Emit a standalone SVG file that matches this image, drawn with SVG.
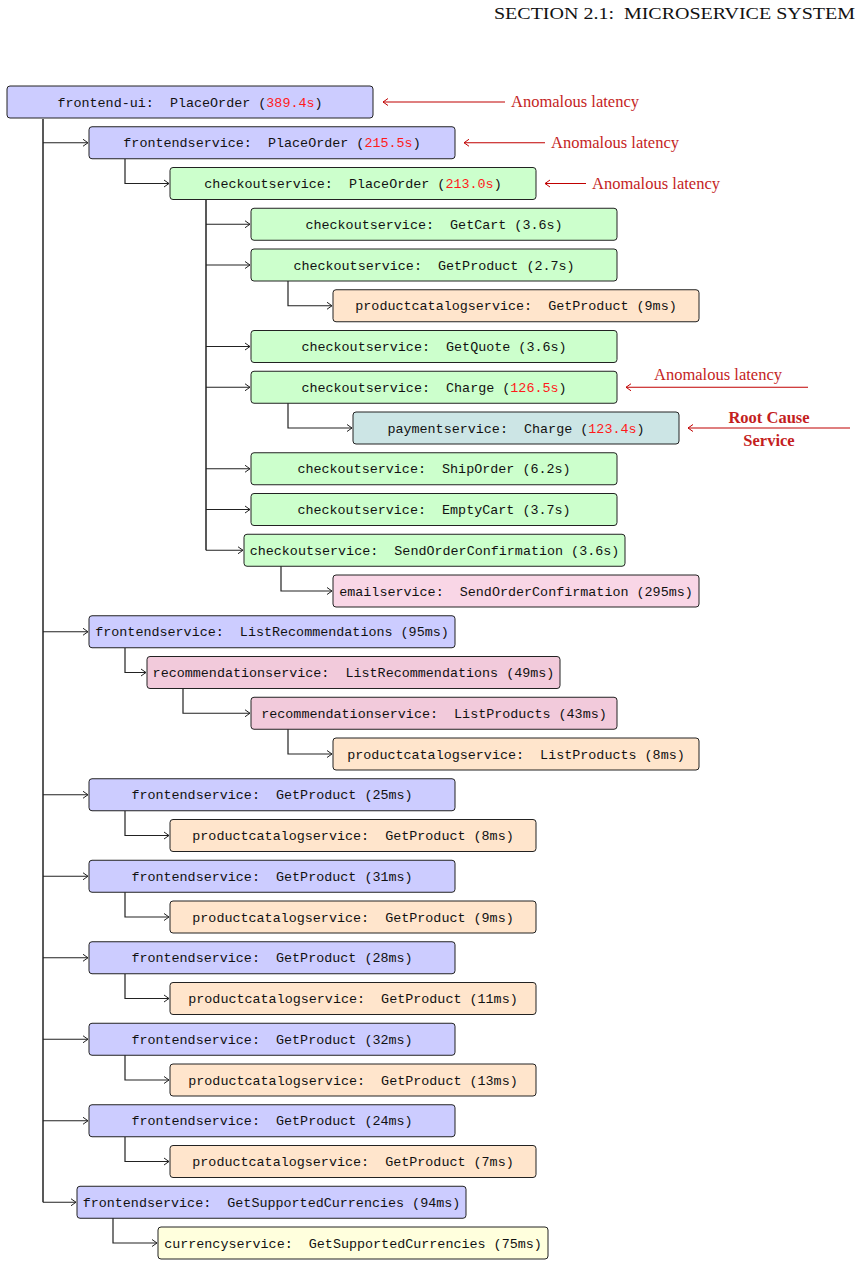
<svg xmlns="http://www.w3.org/2000/svg" width="861" height="1267" viewBox="0 0 861 1267">
<style>
.n rect{stroke:#222;stroke-width:1;rx:3;ry:3}
.n text{font-family:"Liberation Mono","DejaVu Sans Mono",monospace;font-size:13.4px;fill:#111;text-anchor:middle;white-space:pre}
.blue rect{fill:#ccccff}
.green rect{fill:#ccffcc}
.orange rect{fill:#ffe5cc}
.teal rect{fill:#cce5e5}
.pink rect{fill:#f9d6e6}
.rose rect{fill:#f2cadb}
.yellow rect{fill:#ffffdd}
.r{fill:#ff1a1a}
#connectors path{fill:none;stroke:#222;stroke-width:1.2;marker-end:url(#arr)}
#annotations path{fill:none;stroke:#c00000;stroke-width:1.2;marker-end:url(#arr2)}
.ann{font-family:"Liberation Serif","DejaVu Serif",serif;font-size:16.5px;fill:#c41e1e}
.annb{font-family:"Liberation Serif","DejaVu Serif",serif;font-size:16.5px;font-weight:bold;fill:#c41e1e;text-anchor:middle}
.hdr{font-family:"Liberation Serif","DejaVu Serif",serif;font-size:17px;fill:#111;white-space:pre}
</style>
<defs>
<marker id="arr" markerUnits="userSpaceOnUse" markerWidth="12" markerHeight="12" refX="0" refY="0" viewBox="-8 -6 10 12" orient="auto">
<path d="M-5,-3.5 Q-1.5,-1 0,0 Q-1.5,1 -5,3.5" fill="none" stroke="#222" stroke-width="1"/>
</marker>
<marker id="arr2" markerUnits="userSpaceOnUse" markerWidth="12" markerHeight="12" refX="0" refY="0" viewBox="-8 -6 10 12" orient="auto">
<path d="M-5,-3.5 Q-1.5,-1 0,0 Q-1.5,1 -5,3.5" fill="none" stroke="#c00000" stroke-width="1"/>
</marker>
</defs>
<text class="hdr" x="494" y="19" textLength="361" lengthAdjust="spacingAndGlyphs">SECTION 2.1:  MICROSERVICE SYSTEM</text>

<g id="connectors">
<path d="M43,119 V1202.25" style="marker-end:none;stroke-width:1.5"/>
<path d="M43,142.75 H88"/>
<path d="M43,631.75 H88"/>
<path d="M43,794.75 H88"/>
<path d="M43,876.25 H88"/>
<path d="M43,957.75 H88"/>
<path d="M43,1039.25 H88"/>
<path d="M43,1120.75 H88"/>
<path d="M43,1202.25 H76"/>
<path d="M125,159 V183.5 H169"/>
<path d="M206,200 V550.25" style="marker-end:none;stroke-width:1.5"/>
<path d="M206,224.25 H250"/>
<path d="M206,265 H250"/>
<path d="M206,346.5 H250"/>
<path d="M206,387.25 H250"/>
<path d="M206,468.75 H250"/>
<path d="M206,509.5 H250"/>
<path d="M206,550.25 H243"/>
<path d="M288,281 V305.75 H332"/>
<path d="M288,403 V428 H352"/>
<path d="M281,566 V591 H332"/>
<path d="M125,648 V672.5 H146"/>
<path d="M183,689 V713.25 H250"/>
<path d="M288,729 V754 H332"/>
<path d="M125,811 V835.5 H169"/>
<path d="M125,892 V917 H169"/>
<path d="M125,974 V998.5 H169"/>
<path d="M125,1055 V1080 H169"/>
<path d="M125,1137 V1161.5 H169"/>
<path d="M113,1218 V1243 H157"/>
</g>

<g id="annotations">
<path d="M505,102 H383"/>
<path d="M545,142.75 H464"/>
<path d="M586,183.5 H545"/>
<path d="M808,387.25 H626"/>
<path d="M850,428 H688"/>
</g>
<text class="ann" x="511" y="107" textLength="128">Anomalous latency</text>
<text class="ann" x="551" y="148" textLength="128">Anomalous latency</text>
<text class="ann" x="592" y="189" textLength="128">Anomalous latency</text>
<text class="ann" x="654" y="380" textLength="128">Anomalous latency</text>
<text class="annb" x="769" y="423">Root Cause</text>
<text class="annb" x="769" y="446">Service</text>

<g id="n0" class="n blue"><rect x="7" y="86" width="366" height="32"/><text x="190" y="106.5">frontend-ui:  PlaceOrder (<tspan class="r">389.4s</tspan>)</text></g>
<g id="n1" class="n blue"><rect x="89" y="126.75" width="366" height="32"/><text x="272" y="147.25">frontendservice:  PlaceOrder (<tspan class="r">215.5s</tspan>)</text></g>
<g id="n2" class="n green"><rect x="170" y="167.5" width="366" height="32"/><text x="353" y="188">checkoutservice:  PlaceOrder (<tspan class="r">213.0s</tspan>)</text></g>
<g id="n3" class="n green"><rect x="251" y="208.25" width="366" height="32"/><text x="434" y="228.75">checkoutservice:  GetCart (3.6s)</text></g>
<g id="n4" class="n green"><rect x="251" y="249" width="366" height="32"/><text x="434" y="269.5">checkoutservice:  GetProduct (2.7s)</text></g>
<g id="n5" class="n orange"><rect x="333" y="289.75" width="366" height="32"/><text x="516" y="310.25">productcatalogservice:  GetProduct (9ms)</text></g>
<g id="n6" class="n green"><rect x="251" y="330.5" width="366" height="32"/><text x="434" y="351">checkoutservice:  GetQuote (3.6s)</text></g>
<g id="n7" class="n green"><rect x="251" y="371.25" width="366" height="32"/><text x="434" y="391.75">checkoutservice:  Charge (<tspan class="r">126.5s</tspan>)</text></g>
<g id="n8" class="n teal"><rect x="353" y="412" width="326" height="32"/><text x="516" y="432.5">paymentservice:  Charge (<tspan class="r">123.4s</tspan>)</text></g>
<g id="n9" class="n green"><rect x="251" y="452.75" width="366" height="32"/><text x="434" y="473.25">checkoutservice:  ShipOrder (6.2s)</text></g>
<g id="n10" class="n green"><rect x="251" y="493.5" width="366" height="32"/><text x="434" y="514">checkoutservice:  EmptyCart (3.7s)</text></g>
<g id="n11" class="n green"><rect x="244" y="534.25" width="381" height="32"/><text x="434.5" y="554.75">checkoutservice:  SendOrderConfirmation (3.6s)</text></g>
<g id="n12" class="n pink"><rect x="333" y="575" width="366" height="32"/><text x="516" y="595.5">emailservice:  SendOrderConfirmation (295ms)</text></g>
<g id="n13" class="n blue"><rect x="89" y="615.75" width="366" height="32"/><text x="272" y="636.25">frontendservice:  ListRecommendations (95ms)</text></g>
<g id="n14" class="n rose"><rect x="147" y="656.5" width="413" height="32"/><text x="353.5" y="677">recommendationservice:  ListRecommendations (49ms)</text></g>
<g id="n15" class="n rose"><rect x="251" y="697.25" width="366" height="32"/><text x="434" y="717.75">recommendationservice:  ListProducts (43ms)</text></g>
<g id="n16" class="n orange"><rect x="333" y="738" width="366" height="32"/><text x="516" y="758.5">productcatalogservice:  ListProducts (8ms)</text></g>
<g id="n17" class="n blue"><rect x="89" y="778.75" width="366" height="32"/><text x="272" y="799.25">frontendservice:  GetProduct (25ms)</text></g>
<g id="n18" class="n orange"><rect x="170" y="819.5" width="366" height="32"/><text x="353" y="840">productcatalogservice:  GetProduct (8ms)</text></g>
<g id="n19" class="n blue"><rect x="89" y="860.25" width="366" height="32"/><text x="272" y="880.75">frontendservice:  GetProduct (31ms)</text></g>
<g id="n20" class="n orange"><rect x="170" y="901" width="366" height="32"/><text x="353" y="921.5">productcatalogservice:  GetProduct (9ms)</text></g>
<g id="n21" class="n blue"><rect x="89" y="941.75" width="366" height="32"/><text x="272" y="962.25">frontendservice:  GetProduct (28ms)</text></g>
<g id="n22" class="n orange"><rect x="170" y="982.5" width="366" height="32"/><text x="353" y="1003">productcatalogservice:  GetProduct (11ms)</text></g>
<g id="n23" class="n blue"><rect x="89" y="1023.25" width="366" height="32"/><text x="272" y="1043.75">frontendservice:  GetProduct (32ms)</text></g>
<g id="n24" class="n orange"><rect x="170" y="1064" width="366" height="32"/><text x="353" y="1084.5">productcatalogservice:  GetProduct (13ms)</text></g>
<g id="n25" class="n blue"><rect x="89" y="1104.75" width="366" height="32"/><text x="272" y="1125.25">frontendservice:  GetProduct (24ms)</text></g>
<g id="n26" class="n orange"><rect x="170" y="1145.5" width="366" height="32"/><text x="353" y="1166">productcatalogservice:  GetProduct (7ms)</text></g>
<g id="n27" class="n blue"><rect x="77" y="1186.25" width="389" height="32"/><text x="271.5" y="1206.75">frontendservice:  GetSupportedCurrencies (94ms)</text></g>
<g id="n28" class="n yellow"><rect x="158" y="1227" width="390" height="32"/><text x="353" y="1247.5">currencyservice:  GetSupportedCurrencies (75ms)</text></g>
</svg>
